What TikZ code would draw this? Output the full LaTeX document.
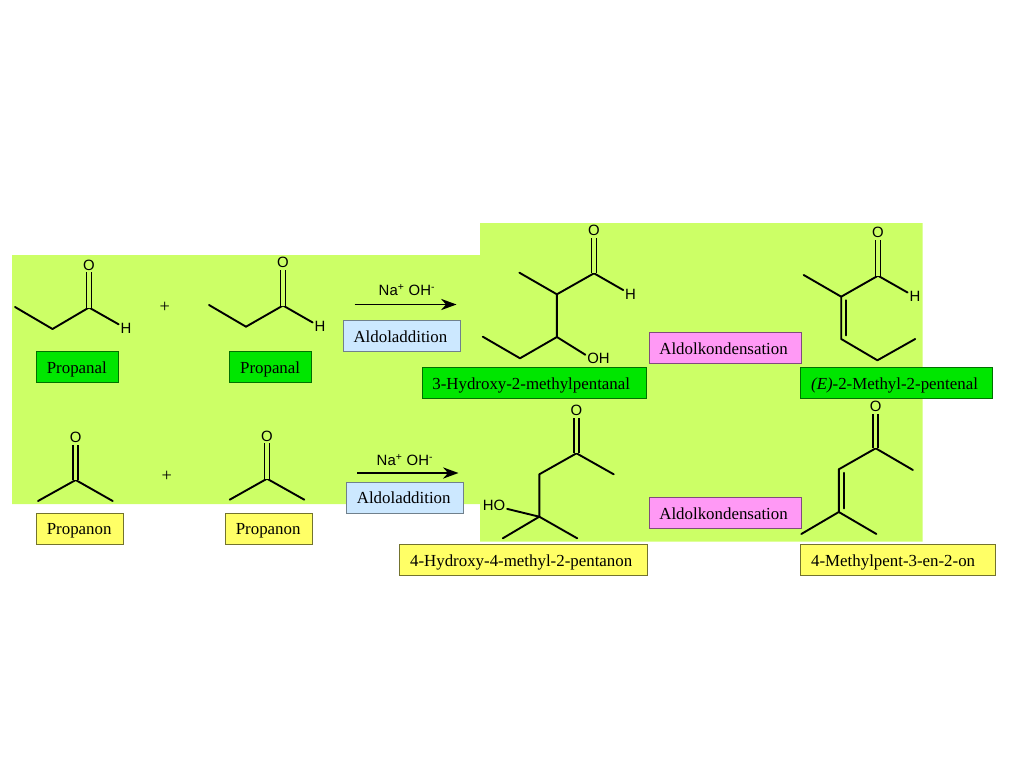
\documentclass[tikz,border=0pt]{standalone}
\usepackage{fontspec}
\setmainfont{Liberation Serif}
\setsansfont{Liberation Sans}
\usepackage{xcolor}
\usepackage{tikz}
\usetikzlibrary{arrows.meta}
\definecolor{bgback}{HTML}{CCFF66}
\definecolor{gruen}{HTML}{00E600}
\definecolor{gelb}{HTML}{FFFF66}
\definecolor{hellblau}{HTML}{CCE8FF}
\definecolor{rosa}{HTML}{FF99F5}
\tikzset{
  atomlabel/.style={font=\sffamily\fontsize{10.6}{12}\selectfont, inner sep=1.2pt},
  bond/.style={line width=1.35pt, line cap=round, line join=round},
  cobond/.style={bond, double=bgback, double distance=2.2pt, line cap=butt},
  namebox/.style={anchor=north west, font=\fontsize{12}{14}\selectfont, inner xsep=0.26cm, inner ysep=0pt,
    minimum height=0.775cm, text width=#1, align=left, text height=10pt, text depth=1pt, line width=0.6pt},
  greenbox/.style={namebox=#1, draw=black!35!gruen!75!black, fill=gruen},
  yellowbox/.style={namebox=#1, draw=black!50!gelb!90!black, fill=gelb},
  bluebox/.style={namebox=#1, draw=black!45!hellblau, fill=hellblau},
  pinkbox/.style={namebox=#1, draw=black!50!rosa, fill=rosa},
  reaction/.style={line width=1.35pt, -{Stealth[length=11pt,width=8pt]}}
}
\begin{document}
\begin{tikzpicture}[x=0.025cm, y=-0.025cm]
\useasboundingbox (0,0) rectangle (1024,768);
\fill [bgback] (12,255) -- (480,255) -- (480,223) -- (922.5,223) -- (922.5,541.5) -- (480,541.5) -- (480,504) -- (12,504) -- cycle;

\coordinate (pa1) at (15,307);
\coordinate (pa2) at (52.5,329);
\coordinate (pa3) at (89,307.5);
\node (paO) [atomlabel] at (89,265) {O};
\node (paH) [atomlabel] at (126,328.5) {H};
\draw [bond] (pa1) -- (pa2) -- (pa3) -- (paH);
\draw [cobond] (pa3) -- (paO);
\node (plus1) [font=\fontsize{13}{14}\selectfont] at (164.7,307.5) {+};

\coordinate (pb1) at (209,305);
\coordinate (pb2) at (246,326.7);
\coordinate (pb3) at (283,305.5);
\node (pbO) [atomlabel] at (283,262.7) {O};
\node (pbH) [atomlabel] at (320,326.7) {H};
\draw [bond] (pb1) -- (pb2) -- (pb3) -- (pbH);
\draw [cobond] (pb3) -- (pbO);

\node (na1) [atomlabel] at (407,290) {Na\textsuperscript{+} OH\textsuperscript{-}};
\coordinate (ar1a) at (354.5,304.5);
\coordinate (ar1b) at (456.5,304.5);
\draw [reaction] (ar1a) -- (ar1b);

\coordinate (hm1) at (482.8,336.7);
\coordinate (hm2) at (520,358.3);
\coordinate (hm3) at (556.9,337);
\coordinate (hm4) at (556.9,294.3);
\coordinate (hm5) at (519.4,272.7);
\coordinate (hm6) at (594,273.3);
\node (hmO) [atomlabel] at (594,230.7) {O};
\node (hmH) [atomlabel] at (630.6,294.3) {H};
\node (hmOH) [atomlabel] at (598.5,358.3) {OH};
\draw [bond] (hm1) -- (hm2) -- (hm3) -- (hm4) -- (hm6) -- (hmH);
\draw [bond] (hm5) -- (hm4);
\draw [bond] (hm3) -- (hmOH.165);
\draw [cobond] (hm6) -- (hmO);

\coordinate (en1) at (803.7,275);
\coordinate (en2) at (841.2,296.7);
\coordinate (en3) at (841.2,339);
\coordinate (en4) at (877.4,360.3);
\coordinate (en5) at (915.2,339);
\coordinate (en6) at (878,275.7);
\node (enO) [atomlabel] at (878,232.5) {O};
\node (enH) [atomlabel] at (914.9,296.7) {H};
\draw [bond] (en1) -- (en2) -- (en3) -- (en4) -- (en5);
\draw [bond] (en2) -- (en6) -- (enH);
\draw [cobond] (en6) -- (enO);
\draw [bond] ([xshift=3.4pt,yshift=-2.5pt]en2) -- ([xshift=3.4pt,yshift=2.5pt]en3);

\coordinate (po1) at (38,501);
\coordinate (po2) at (75.7,480);
\coordinate (po3) at (112.7,501);
\node (poO) [atomlabel] at (75.7,437.3) {O};
\draw [bond] (po1) -- (po2) -- (po3);
\draw [cobond] (po2) -- (poO);
\node (plus2) [font=\fontsize{13}{14}\selectfont] at (166.7,476.7) {+};

\coordinate (pq1) at (229.7,499.7);
\coordinate (pq2) at (267,478.7);
\coordinate (pq3) at (304.3,499.7);
\node (pqO) [atomlabel] at (267,436) {O};
\draw [bond] (pq1) -- (pq2) -- (pq3);
\draw [cobond] (pq2) -- (pqO);

\node (na2) [atomlabel] at (405,460) {Na\textsuperscript{+} OH\textsuperscript{-}};
\coordinate (ar2a) at (357,473);
\coordinate (ar2b) at (458.5,473);
\draw [reaction] (ar2a) -- (ar2b);

\coordinate (hk1) at (502.8,538.3);
\coordinate (hk2) at (539.3,516.7);
\coordinate (hk3) at (577.2,538.3);
\coordinate (hk4) at (539.3,474.3);
\coordinate (hk5) at (576.5,453.3);
\coordinate (hk6) at (613.7,474.3);
\node (hkO) [atomlabel] at (576.5,410.7) {O};
\node (hkHO) [atomlabel] at (494,505.7) {HO};
\draw [bond] (hk1) -- (hk2) -- (hk3);
\draw [bond] (hk2) -- (hk4) -- (hk5) -- (hk6);
\draw [bond] (hk2) -- (hkHO);
\draw [cobond] (hk5) -- (hkO);

\coordinate (me1) at (801.3,534);
\coordinate (me2) at (838.8,512);
\coordinate (me3) at (876.4,534);
\coordinate (me4) at (838.8,469.3);
\coordinate (me5) at (875.7,448.3);
\coordinate (me6) at (912.9,470);
\node (meO) [atomlabel] at (875.7,406.3) {O};
\draw [bond] (me1) -- (me2) -- (me3);
\draw [bond] (me2) -- (me4) -- (me5) -- (me6);
\draw [cobond] (me5) -- (meO);
\draw [bond] ([xshift=3.4pt,yshift=-2.5pt]me4) -- ([xshift=3.4pt,yshift=2.5pt]me2);

\node (lbPa1) [greenbox=1.53cm] at (36,351) {Propanal};
\node (lbPa2) [greenbox=1.53cm] at (229.3,351) {Propanal};
\node (lbHm) [greenbox=5.08cm] at (421.5,367) {3-Hydroxy-2-methylpentanal};
\node (lbEn) [greenbox=4.28cm] at (800.3,367) {\textit{(E)}-2-Methyl-2-pentenal};
\node (lbPo1) [yellowbox=1.66cm] at (36,512.7) {Propanon};
\node (lbPo2) [yellowbox=1.66cm] at (225,512.7) {Propanon};
\node (lbHk) [yellowbox=5.68cm] at (399.3,544) {4-Hydroxy-4-methyl-2-pentanon};
\node (lbMe) [yellowbox=4.35cm] at (800.3,544) {4-Methylpent-3-en-2-on};
\node (add1) [bluebox=2.4cm] at (342.7,320) {Aldoladdition};
\node (add2) [bluebox=2.4cm] at (346,481.7) {Aldoladdition};
\node (kond1) [pinkbox=3.28cm] at (648.5,332) {Aldolkondensation};
\node (kond2) [pinkbox=3.28cm] at (648.5,497.3) {Aldolkondensation};
\end{tikzpicture}
\end{document}
